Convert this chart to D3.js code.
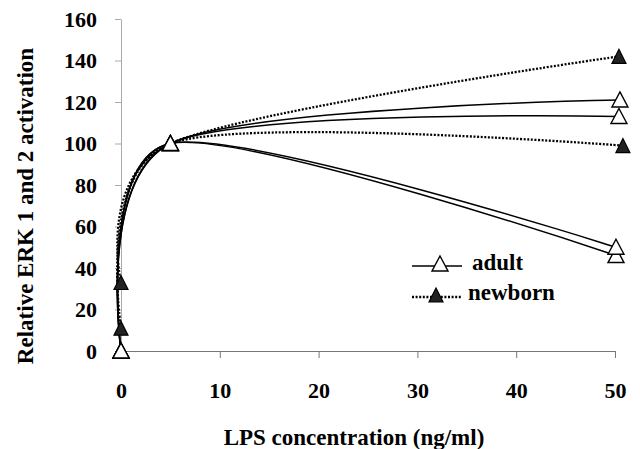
<!DOCTYPE html>
<html>
<head>
<meta charset="utf-8">
<script src="https://cdn.jsdelivr.net/npm/d3@7"></script>
<style>
  html, body { margin: 0; padding: 0; background: #fff; }
  svg { display: block; }
  svg text { font-family: "Liberation Serif", "Times New Roman", Times, "DejaVu Serif", serif; font-weight: bold; }
</style>
</head>
<body>
<div id="chart"></div>
<script>
// LPS doses (ng/ml) and relative ERK 1/2 activation
const doses = [0, 5, 50];
const adultEndDose = [50.5, 50.4, 50.1, 50.1];
const adultValues = [
  [0, 100, 121],
  [0, 100, 113],
  [0, 100, 46],
  [0, 100, 50]
];
const newbornEndDose = [50.4, 50.8];
const newbornValues = [
  [33, 100, 142],
  [11, 100, 99]
];
const xTicks = [0, 10, 20, 30, 40, 50];
const yTicks = [0, 20, 40, 60, 80, 100, 120, 140, 160];

const width = 640;
const height = 449;
const marginTop = 19;
const marginRight = 25;
const marginBottom = 98;
const marginLeft = 121;
const font = "\"Liberation Serif\", \"Times New Roman\", Times, \"DejaVu Serif\", serif";

const x = d3.scaleLinear().domain([0, 50]).range([marginLeft, width - marginRight]);
const y = d3.scaleLinear().domain([0, 160]).range([height - marginBottom, marginTop]);

const toPoints = (vals, endDose) =>
  vals.map((v, i) => ({ dose: i === doses.length - 1 ? endDose : doses[i], value: v }));

const adult = adultValues.map((v, i) => toPoints(v, adultEndDose[i]));
const newborn = newbornValues.map((v, i) => toPoints(v, newbornEndDose[i]));

const svg = d3.select("#chart")
  .append("svg")
  .attr("width", width)
  .attr("height", height)
  .attr("font-family", font)
  .attr("font-weight", "bold");

// axes
svg.append("g")
  .attr("transform", `translate(${marginLeft},0)`)
  .call(d3.axisLeft(y).tickValues(yTicks).tickSize(6).tickPadding(18).tickSizeOuter(0))
  .attr("font-family", font)
  .attr("font-size", 22)
  .call(g => g.select(".domain").attr("stroke", "#aaa"))
  .call(g => g.selectAll(".tick line").attr("stroke", "#aaa"))
  .call(g => g.selectAll("text").attr("fill", "#000"));

svg.append("g")
  .attr("transform", `translate(0,${height - marginBottom})`)
  .call(d3.axisBottom(x).tickValues(xTicks).tickSize(7).tickPadding(24).tickSizeOuter(0))
  .attr("font-family", font)
  .attr("font-size", 22)
  .call(g => g.select(".domain").attr("stroke", "#777"))
  .call(g => g.selectAll(".tick line").attr("stroke", "#777"))
  .call(g => g.selectAll("text").attr("fill", "#000"));

// axis titles
svg.append("text")
  .attr("x", 354)
  .attr("y", 445)
  .attr("text-anchor", "middle")
  .attr("font-size", 23)
  .text("LPS concentration (ng/ml)");

svg.append("text")
  .attr("transform", "translate(33,206) rotate(-90)")
  .attr("text-anchor", "middle")
  .attr("font-size", 23)
  .text("Relative ERK 1 and 2 activation");

// smoothed lines, like the spreadsheet's smooth option
const line = d3.line()
  .x(d => x(d.dose))
  .y(d => y(d.value))
  .curve(d3.curveCardinal.tension(0.12));

svg.append("g")
  .selectAll("path")
  .data(newborn)
  .join("path")
  .attr("d", line)
  .attr("fill", "none")
  .attr("stroke", "#000")
  .attr("stroke-width", 2.3)
  .attr("stroke-dasharray", "2,1.6");

svg.append("g")
  .selectAll("path")
  .data(adult)
  .join("path")
  .attr("d", line)
  .attr("fill", "none")
  .attr("stroke", "#000")
  .attr("stroke-width", 1.5);

const openTri = "M0,-8L8,7L-8,7Z";
const filledTri = "M0,-7L7,7L-7,7Z";

svg.append("g")
  .selectAll("path")
  .data(newborn.flat())
  .join("path")
  .attr("transform", d => `translate(${x(d.dose)},${y(d.value)})`)
  .attr("d", filledTri)
  .attr("fill", "#222")
  .attr("stroke", "#000")
  .attr("stroke-width", 1.2);

svg.append("g")
  .selectAll("path")
  .data(adult.flat())
  .join("path")
  .attr("transform", d => `translate(${x(d.dose)},${y(d.value)})`)
  .attr("d", openTri)
  .attr("fill", "#fff")
  .attr("stroke", "#000")
  .attr("stroke-width", 1.4);

// legend
const legend = svg.append("g").attr("font-size", 23);
legend.append("line")
  .attr("x1", 412).attr("x2", 462).attr("y1", 266).attr("y2", 266)
  .attr("stroke", "#000").attr("stroke-width", 1.5);
legend.append("path")
  .attr("transform", "translate(440,264)")
  .attr("d", openTri)
  .attr("fill", "#fff").attr("stroke", "#000").attr("stroke-width", 1.4);
legend.append("text")
  .attr("x", 472).attr("y", 270)
  .text("adult");

legend.append("line")
  .attr("x1", 412).attr("x2", 462).attr("y1", 297).attr("y2", 297)
  .attr("stroke", "#000").attr("stroke-width", 2.3).attr("stroke-dasharray", "2,1.6");
legend.append("path")
  .attr("transform", "translate(436,295)")
  .attr("d", filledTri)
  .attr("fill", "#222").attr("stroke", "#000").attr("stroke-width", 1.2);
legend.append("text")
  .attr("x", 468).attr("y", 300)
  .text("newborn");
</script>
</body>
</html>
